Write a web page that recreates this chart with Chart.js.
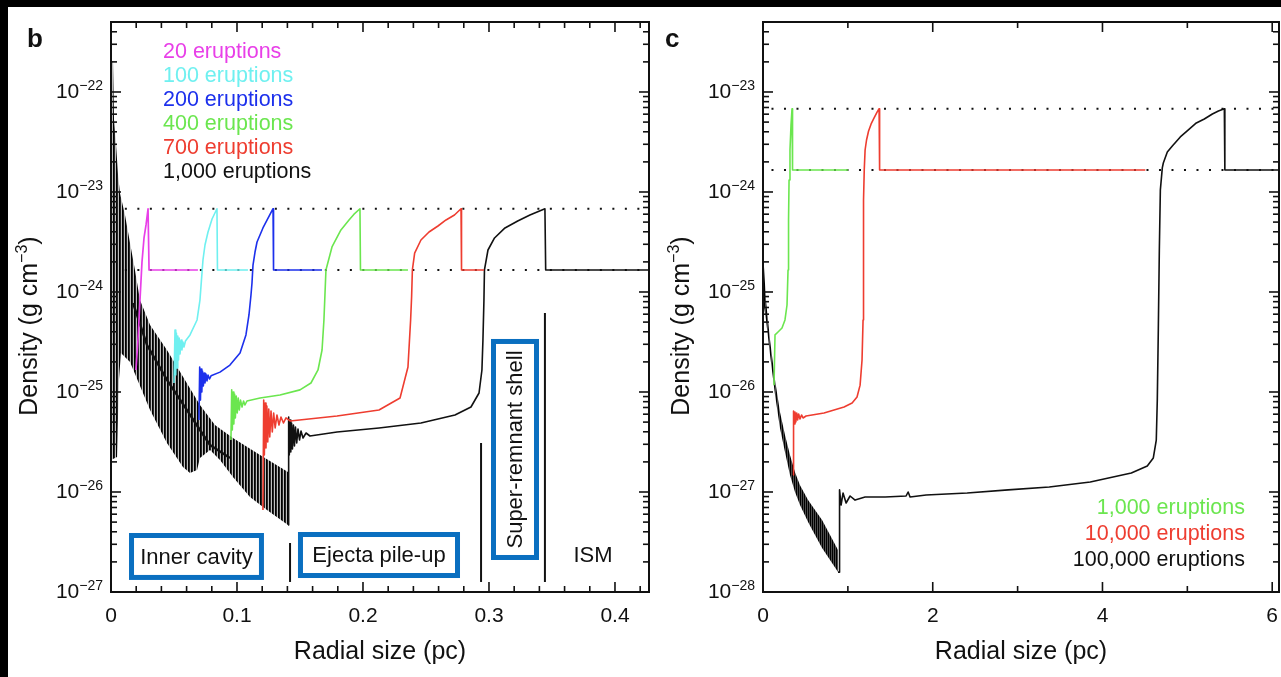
<!DOCTYPE html>
<html>
<head>
<meta charset="utf-8">
<script src="https://cdn.jsdelivr.net/npm/chart.js@4.4.1/dist/chart.umd.min.js"></script>
<style>
  body { margin: 0; background: #000; width: 1281px; height: 677px; overflow: hidden; }
  #sheet { position: absolute; left: 8px; top: 7px; width: 1273px; height: 670px; background: #fff; }
  #panelB { position: absolute; left: 0; top: 0; }
  #panelC { position: absolute; left: 648px; top: 0; }
</style>
</head>
<body>
<div id="sheet">
  <canvas id="panelB" width="648" height="670"></canvas>
  <canvas id="panelC" width="625" height="670"></canvas>
</div>
<script>
// ---------- panel b : radius (pc) and density (g cm^-3) ----------
const bMagX = [0.0198, 0.0214, 0.0230, 0.0246, 0.0262, 0.0278, 0.0294, 0.0302, 0.0690];
const bMagY = [1.66e-25, 3.31e-25, 8.3e-25, 2.0e-24, 3.47e-24, 4.68e-24, 6.8e-24, 1.66e-24, 1.66e-24];

const bCyanX = [0.0500, 0.0508, 0.0514, 0.0519, 0.0525, 0.0530, 0.0536, 0.0541, 0.0548, 0.0556, 0.0563, 0.0571, 0.0579, 0.0591, 0.0627, 0.0683, 0.0706, 0.0718, 0.0730, 0.0746, 0.0770, 0.0802, 0.0841, 0.0845, 0.1087];
const bCyanY = [1.23e-25, 4.17e-25, 1.48e-25, 3.89e-25, 1.74e-25, 3.63e-25, 2.09e-25, 3.47e-25, 2.4e-25, 3.31e-25, 2.63e-25, 3.16e-25, 2.82e-25, 3.24e-25, 3.72e-25, 5.25e-25, 8.3e-25, 1.32e-24, 2.09e-24, 2.95e-24, 3.98e-24, 5.37e-24, 6.8e-24, 1.66e-24, 1.66e-24];

const bBlueX = [0.0698, 0.0704, 0.0710, 0.0715, 0.0721, 0.0726, 0.0733, 0.0739, 0.0746, 0.0754, 0.0762, 0.0770, 0.0782, 0.0794, 0.0865, 0.0944, 0.1024, 0.1071, 0.1095, 0.1111, 0.1119, 0.1127, 0.1143, 0.1159, 0.1206, 0.1286, 0.1290, 0.1675];
const bBlueY = [5.25e-26, 1.78e-25, 8.3e-26, 1.7e-25, 1.0e-25, 1.62e-25, 1.15e-25, 1.55e-25, 1.23e-25, 1.51e-25, 1.29e-25, 1.48e-25, 1.35e-25, 1.45e-25, 1.58e-25, 1.86e-25, 2.45e-25, 3.72e-25, 5.89e-25, 9.33e-25, 1.23e-24, 1.86e-24, 2.51e-24, 3.16e-24, 4.37e-24, 6.8e-24, 1.66e-24, 1.66e-24];

const bGreenX = [0.0952, 0.0958, 0.0963, 0.0969, 0.0975, 0.0981, 0.0987, 0.0994, 0.1002, 0.1010, 0.1018, 0.1028, 0.1040, 0.1052, 0.1063, 0.1079, 0.1183, 0.1341, 0.1500, 0.1587, 0.1643, 0.1675, 0.1690, 0.1698, 0.1706, 0.1754, 0.1825, 0.1889, 0.1929, 0.1976, 0.1980, 0.2357];
const bGreenY = [3.31e-26, 1.05e-25, 4.17e-26, 1.0e-25, 4.79e-26, 9.55e-26, 5.5e-26, 9.12e-26, 6.17e-26, 8.7e-26, 6.6e-26, 8.3e-26, 7.08e-26, 8.13e-26, 7.41e-26, 8.13e-26, 8.7e-26, 9.33e-26, 1.05e-25, 1.23e-25, 1.66e-25, 2.63e-25, 5.25e-25, 9.33e-25, 1.66e-24, 2.82e-24, 4.17e-24, 5.25e-24, 6.0e-24, 6.8e-24, 1.66e-24, 1.66e-24];

const bRedX = [0.1206, 0.1212, 0.1217, 0.1224, 0.1230, 0.1237, 0.1244, 0.1252, 0.1260, 0.1270, 0.1280, 0.1291, 0.1303, 0.1317, 0.1333, 0.1349, 0.1369, 0.1389, 0.1421, 0.1794, 0.2127, 0.2294, 0.2357, 0.2378, 0.2386, 0.2392, 0.2410, 0.2460, 0.2524, 0.2595, 0.2659, 0.2726, 0.2778, 0.2782, 0.2960];
const bRedY = [6.6e-27, 8.3e-26, 2.34e-26, 7.76e-26, 2.75e-26, 7.24e-26, 3.16e-26, 6.76e-26, 3.55e-26, 6.46e-26, 3.98e-26, 6.17e-26, 4.37e-26, 5.89e-26, 4.68e-26, 5.62e-26, 4.9e-26, 5.5e-26, 5.13e-26, 5.75e-26, 6.6e-26, 8.7e-26, 1.78e-25, 5.25e-25, 9.0e-25, 1.66e-24, 2.45e-24, 3.31e-24, 3.98e-24, 4.57e-24, 5.25e-24, 5.89e-24, 6.8e-24, 1.66e-24, 1.66e-24];

// 1,000 eruptions: outer part as a line, inner oscillating part as an envelope
const bBlackX = [0.1405, 0.1410, 0.1415, 0.1421, 0.1427, 0.1433, 0.1440, 0.1448, 0.1456, 0.1464, 0.1474, 0.1484, 0.1496, 0.1508, 0.1524, 0.1548, 0.1579, 0.1794, 0.2127, 0.2460, 0.2730, 0.2857, 0.2921, 0.2944, 0.2952, 0.2960, 0.2964, 0.2992, 0.3044, 0.3127, 0.3228, 0.3325, 0.3444, 0.3450, 0.4300];
const bBlackY = [4.68e-27, 5.62e-26, 2.34e-26, 5.25e-26, 2.51e-26, 4.9e-26, 2.69e-26, 4.68e-26, 2.88e-26, 4.47e-26, 3.09e-26, 4.27e-26, 3.31e-26, 4.07e-26, 3.47e-26, 3.89e-26, 3.63e-26, 3.98e-26, 4.37e-26, 4.9e-26, 5.89e-26, 7.08e-26, 9.77e-26, 1.66e-25, 3.31e-25, 8.3e-25, 1.66e-24, 2.63e-24, 3.47e-24, 4.37e-24, 5.13e-24, 5.89e-24, 6.8e-24, 1.66e-24, 1.66e-24];
const bBandTopX = [0, 0.0016, 0.0024, 0.0040, 0.0056, 0.0071, 0.0111, 0.0151, 0.0190, 0.0230, 0.0310, 0.0444, 0.0587, 0.0706, 0.0825, 0.0968, 0.1183, 0.1405];
const bBandTopY = [2.09e-22, 2.0e-22, 5.25e-23, 2.95e-23, 1.48e-23, 9.77e-24, 5.89e-24, 3.09e-24, 1.66e-24, 8.3e-25, 4.68e-25, 2.63e-25, 1.32e-25, 7.41e-26, 4.68e-26, 3.47e-26, 2.34e-26, 1.58e-26];
const bBandLowX = [0, 0.0048, 0.0063, 0.0079, 0.0151, 0.0310, 0.0444, 0.0571, 0.0627, 0.0683, 0.0706, 0.0786, 0.0865, 0.0968, 0.1103, 0.1238, 0.1405];
const bBandLowY = [2.09e-26, 2.24e-26, 1.32e-25, 2.45e-25, 2.0e-25, 6.6e-26, 3.09e-26, 1.78e-26, 1.55e-26, 1.66e-26, 2.19e-26, 2.63e-26, 2.09e-26, 1.41e-26, 8.9e-27, 6.6e-27, 4.68e-27];
const bBandMidX = [0.0175, 0.0286, 0.0444, 0.0603, 0.0706, 0.0786, 0.0944];
const bBandMidY = [7.76e-25, 2.95e-25, 1.32e-25, 6.6e-26, 4.17e-26, 2.95e-26, 2.19e-26];

// shock peak and ambient (ISM) density, dotted guides
const shockDensity = 6.8e-24;
const ismDensity = 1.66e-24;
const bGuideX = [0.011, 0.427];

// region boundaries (x, bottom, top)
const bBounds = [[0.1421, 1.26e-27, 3.09e-27], [0.2937, 1.26e-27, 3.09e-26], [0.3444, 1.26e-27, 6.17e-25]];

const bTicksX = [0, 0.1, 0.2, 0.3, 0.4];
const bTickLabelsX = ['0', '0.1', '0.2', '0.3', '0.4'];
const bMinorX = [0.02, 0.04, 0.06, 0.08, 0.12, 0.14, 0.16, 0.18, 0.22, 0.24, 0.26, 0.28, 0.32, 0.34, 0.36, 0.38, 0.42];
const bDecades = [-27, -26, -25, -24, -23, -22];
const bLegend = ['20 eruptions', '100 eruptions', '200 eruptions', '400 eruptions', '700 eruptions', '1,000 eruptions'];

// ---------- panel c ----------
const cGreenX = [0.130, 0.1415, 0.177, 0.224, 0.259, 0.283, 0.295, 0.301, 0.307, 0.318, 0.330, 0.342, 0.348, 1.002];
const cGreenY = [1.17e-26, 3.72e-26, 3.98e-26, 4.37e-26, 5.25e-26, 7.41e-26, 1.66e-25, 5.25e-25, 1.32e-24, 2.63e-24, 4.68e-24, 6.8e-24, 1.66e-24, 1.66e-24];

const cRedX = [0.354, 0.360, 0.368, 0.377, 0.387, 0.397, 0.408, 0.420, 0.436, 0.454, 0.472, 0.507, 0.719, 0.955, 1.050, 1.108, 1.144, 1.167, 1.179, 1.183, 1.186, 1.193, 1.203, 1.220, 1.244, 1.274, 1.309, 1.344, 1.368, 1.374, 4.505];
const cRedY = [1.48e-27, 6.46e-27, 4.79e-27, 6.3e-27, 5.01e-27, 6.17e-27, 5.25e-27, 6.03e-27, 5.37e-27, 5.89e-27, 5.5e-27, 5.75e-27, 6.17e-27, 7.08e-27, 7.76e-27, 8.9e-27, 1.17e-26, 2.09e-26, 5.25e-26, 2.63e-25, 8.3e-25, 1.66e-24, 2.63e-24, 3.31e-24, 4.07e-24, 4.79e-24, 5.5e-24, 6.3e-24, 6.8e-24, 1.66e-24, 1.66e-24];

const cBandX = [0, 0.035, 0.083, 0.142, 0.200, 0.259, 0.318, 0.377, 0.436, 0.531, 0.613, 0.696, 0.790, 0.884];
const cBandTopY = [2.63e-25, 8.3e-26, 3.31e-26, 1.32e-26, 6.3e-27, 3.72e-27, 2.34e-27, 1.58e-27, 1.17e-27, 8.3e-28, 6.6e-28, 5.25e-28, 3.72e-28, 2.63e-28];
const cBandLowY = [8.3e-26, 5.25e-26, 2.34e-26, 9.33e-27, 4.37e-27, 2.51e-27, 1.48e-27, 1.0e-27, 7.41e-28, 5.0e-28, 3.72e-28, 2.75e-28, 2.09e-28, 1.58e-28];
const cBlackX = [0.884, 0.896, 0.902, 0.920, 0.943, 0.979, 1.026, 1.085, 1.203, 1.439, 1.686, 1.710, 1.733, 1.922, 2.406, 2.889, 3.373, 3.856, 4.340, 4.528, 4.599, 4.634, 4.646, 4.658, 4.670, 4.682, 4.705, 4.717, 4.764, 4.823, 4.917, 5.012, 5.106, 5.200, 5.295, 5.366, 5.436, 5.442, 6.1];
const cBlackY = [1.58e-28, 1.58e-28, 1.05e-27, 7.41e-28, 9.77e-28, 7.76e-28, 9.12e-28, 8.3e-28, 8.9e-28, 8.9e-28, 9.12e-28, 1.0e-27, 8.9e-28, 9.33e-28, 9.77e-28, 1.05e-27, 1.12e-27, 1.26e-27, 1.55e-27, 1.82e-27, 2.19e-27, 3.31e-27, 8.3e-27, 4.17e-26, 2.63e-25, 1.05e-24, 1.74e-24, 1.95e-24, 2.51e-24, 2.88e-24, 3.55e-24, 4.17e-24, 4.9e-24, 5.37e-24, 6.03e-24, 6.46e-24, 6.8e-24, 1.66e-24, 1.66e-24];
const cGuideX = [0.1, 6.1];

const cTicksX = [0, 2, 4, 6];
const cTickLabelsX = ['0', '2', '4', '6'];
const cMinorX = [1, 3, 5];
const cDecades = [-28, -27, -26, -25, -24, -23];
const cLegend = ['1,000 eruptions', '10,000 eruptions', '100,000 eruptions'];

// ---------- drawing ----------
const FONT = '"Liberation Sans", Arial, Helvetica, sans-serif';
const MAGENTA = '#e83fe8', CYAN = '#6ff0f0', BLUE = '#1c30ec', GREEN = '#6be64f', RED = '#ee3d30', INK = '#111';

function pts(xs, ys) { return xs.map((x, i) => ({ x: x, y: ys[i] })); }
function flat(xs, v) { return xs.map(x => ({ x: x, y: v })); }

// vertical hatching that stands in for the dense oscillations
function stripes(alphas) {
  const p = document.createElement('canvas');
  p.width = alphas.length; p.height = 4;
  const g = p.getContext('2d');
  alphas.forEach((al, i) => { g.fillStyle = 'rgba(0,0,0,' + al + ')'; g.fillRect(i, 0, 1, 4); });
  return g.createPattern(p, 'repeat');
}

function line(data, color, width, order, extra) {
  return Object.assign({ data: data, borderColor: color, borderWidth: width, pointRadius: 0,
    fill: false, tension: 0, borderJoinStyle: 'round', order: order }, extra || {});
}

function drawPow(ctx, xr, y, exp) {
  const sup = '\u2212' + Math.abs(exp);
  ctx.font = '14px ' + FONT;
  const w2 = ctx.measureText(sup).width;
  ctx.font = '21px ' + FONT;
  const w1 = ctx.measureText('10').width;
  ctx.textAlign = 'left'; ctx.textBaseline = 'alphabetic';
  ctx.fillText('10', xr - w1 - w2, y + 6);
  ctx.font = '14px ' + FONT;
  ctx.fillText(sup, xr - w2, y - 2);
}

const framePlugin = {
  id: 'frame',
  afterDraw(chart, args, o) {
    const ctx = chart.ctx, a = chart.chartArea, sx = chart.scales.x, sy = chart.scales.y;
    ctx.save();
    const seg = (x0, y0, x1, y1) => { ctx.beginPath(); ctx.moveTo(x0, y0); ctx.lineTo(x1, y1); ctx.stroke(); };

    // blue annotation boxes
    (o.boxes || []).forEach(b => {
      const x0 = sx.getPixelForValue(b.x0), x1 = sx.getPixelForValue(b.x1);
      const y0 = sy.getPixelForValue(b.y1), y1 = sy.getPixelForValue(b.y0);
      ctx.lineWidth = 5; ctx.strokeStyle = '#0a6fc0';
      ctx.strokeRect(x0 + 2.5, y0 + 2.5, x1 - x0 - 5, y1 - y0 - 5);
      ctx.save();
      ctx.translate((x0 + x1) / 2, (y0 + y1) / 2);
      if (b.vertical) ctx.rotate(-Math.PI / 2);
      ctx.font = '22px ' + FONT; ctx.fillStyle = INK; ctx.textAlign = 'center'; ctx.textBaseline = 'middle';
      ctx.fillText(b.text, 0, 1);
      ctx.restore();
    });
    (o.notes || []).forEach(n => {
      ctx.font = '22px ' + FONT; ctx.fillStyle = INK; ctx.textAlign = 'center'; ctx.textBaseline = 'middle';
      ctx.fillText(n.text, sx.getPixelForValue(n.x), sy.getPixelForValue(n.y));
    });

    // legend
    const lg = o.legend;
    ctx.font = '21.5px ' + FONT; ctx.textAlign = lg.align; ctx.textBaseline = 'middle';
    lg.items.forEach((t, i) => {
      ctx.fillStyle = lg.colors[i];
      ctx.fillText(t, a.left + lg.dx, a.top + lg.dy + i * lg.step);
    });

    // frame and inward ticks on all four sides
    ctx.strokeStyle = INK; ctx.fillStyle = INK;
    ctx.lineWidth = 2;
    ctx.strokeRect(a.left, a.top, a.right - a.left, a.bottom - a.top);
    ctx.lineWidth = 1.6;
    const tx = (v, len) => { const p = sx.getPixelForValue(v); seg(p, a.bottom, p, a.bottom - len); seg(p, a.top, p, a.top + len); };
    const ty = (v, len) => { const p = sy.getPixelForValue(v); seg(a.left, p, a.left + len, p); seg(a.right, p, a.right - len, p); };
    o.xTicks.forEach(v => tx(v, 10));
    o.xMinor.forEach(v => tx(v, 6));
    o.decades.concat([o.decades[o.decades.length - 1] + 1]).forEach(d => {
      for (let m = 1; m <= 9; m++) {
        const v = Number(m + 'e' + d);
        if (v >= sy.min * 0.999 && v <= sy.max * 1.001) ty(v, m === 1 ? 10 : 6);
      }
    });

    // tick labels
    ctx.font = '21px ' + FONT; ctx.textAlign = 'center'; ctx.textBaseline = 'alphabetic';
    o.xTicks.forEach((v, i) => ctx.fillText(o.xLabels[i], sx.getPixelForValue(v), a.bottom + 30));
    o.decades.forEach(d => drawPow(ctx, a.left - 8, sy.getPixelForValue(Number('1e' + d)), d));

    // axis titles
    ctx.font = '25px ' + FONT; ctx.textAlign = 'center';
    ctx.fillText('Radial size (pc)', (a.left + a.right) / 2, a.bottom + 67);
    ctx.save();
    ctx.translate(a.left - 74, (a.top + a.bottom) / 2 + 19);
    ctx.rotate(-Math.PI / 2);
    const t1 = 'Density (g cm', t2 = '\u22123', t3 = ')';
    ctx.font = '25px ' + FONT; const w1 = ctx.measureText(t1).width, w3 = ctx.measureText(t3).width;
    ctx.font = '16px ' + FONT; const w2 = ctx.measureText(t2).width;
    let x0 = -(w1 + w2 + w3) / 2;
    ctx.textAlign = 'left';
    ctx.font = '25px ' + FONT; ctx.fillText(t1, x0, 0);
    ctx.font = '16px ' + FONT; ctx.fillText(t2, x0 + w1, -10);
    ctx.font = '25px ' + FONT; ctx.fillText(t3, x0 + w1 + w2, 0);
    ctx.restore();

    // panel letter
    ctx.font = 'bold 26px ' + FONT; ctx.textAlign = 'left';
    ctx.fillText(o.letter, o.letterX, o.letterY);
    ctx.restore();
  }
};

function baseOptions(xmax, ymin, ymax, pad, frame) {
  return {
    responsive: false, animation: false, events: [],
    layout: { padding: pad },
    plugins: { legend: { display: false }, tooltip: { enabled: false }, frame: frame },
    scales: {
      x: { type: 'linear', min: 0, max: xmax, display: false },
      y: { type: 'logarithmic', min: ymin, max: ymax, display: false }
    }
  };
}

const dotted = { borderDash: [2, 10.5], borderCapStyle: 'butt' };

new Chart(document.getElementById('panelB'), {
  type: 'line',
  data: { datasets: [
    line(pts(bMagX, bMagY), MAGENTA, 1.7, 1),
    line(pts(bCyanX, bCyanY), CYAN, 1.6, 1),
    line(pts(bBlueX, bBlueY), BLUE, 1.6, 1),
    line(pts(bGreenX, bGreenY), GREEN, 1.6, 1),
    line(pts(bRedX, bRedY), RED, 1.6, 1),
    line(pts(bBlackX, bBlackY), INK, 1.6, 2),
    line(pts(bBandMidX, bBandMidY), INK, 2.4, 3),
    line(pts(bBandTopX, bBandTopY), 'rgba(0,0,0,0)', 0, 4, { fill: '+1', backgroundColor: stripes([1, 0.85, 0.25]) }),
    line(pts(bBandLowX, bBandLowY), 'rgba(0,0,0,0)', 0, 4),
    line(flat(bGuideX, shockDensity), INK, 1.8, 5, dotted),
    line(flat(bGuideX, ismDensity), INK, 1.8, 5, dotted),
    ...bBounds.map(b => line([{ x: b[0], y: b[1] }, { x: b[0], y: b[2] }], INK, 2, 0))
  ] },
  options: baseOptions(0.427, 1e-27, 5.01e-22, { left: 103, top: 15, right: 7, bottom: 85 }, {
    xTicks: bTicksX, xLabels: bTickLabelsX, xMinor: bMinorX, decades: bDecades,
    letter: 'b', letterX: 19, letterY: 40,
    legend: { items: bLegend, colors: [MAGENTA, CYAN, BLUE, GREEN, RED, INK], align: 'left', dx: 52, dy: 30, step: 24.1 },
    boxes: [
      { text: 'Inner cavity', x0: 0.0143, x1: 0.1214, y0: 1.32e-27, y1: 3.89e-27 },
      { text: 'Ejecta pile-up', x0: 0.1484, x1: 0.2770, y0: 1.38e-27, y1: 3.98e-27 },
      { text: 'Super-remnant shell', x0: 0.3016, x1: 0.3397, y0: 2.09e-27, y1: 3.39e-25, vertical: true }
    ],
    notes: [{ text: 'ISM', x: 0.3825, y: 2.29e-27 }]
  }),
  plugins: [framePlugin]
});

new Chart(document.getElementById('panelC'), {
  type: 'line',
  data: { datasets: [
    line(pts(cGreenX, cGreenY), GREEN, 1.6, 1),
    line(pts(cRedX, cRedY), RED, 1.6, 1),
    line(pts(cBlackX, cBlackY), INK, 1.6, 2),
    line(pts(cBandX, cBandTopY), 'rgba(0,0,0,0)', 0, 4, { fill: '+1', backgroundColor: stripes([1, 0.7]) }),
    line(pts(cBandX, cBandLowY), 'rgba(0,0,0,0)', 0, 4),
    line(flat(cGuideX, shockDensity), INK, 1.8, 5, dotted),
    line(flat(cGuideX, ismDensity), INK, 1.8, 5, dotted)
  ] },
  options: baseOptions(6.08, 1e-28, 5.01e-23, { left: 107, top: 15, right: 2, bottom: 85 }, {
    xTicks: cTicksX, xLabels: cTickLabelsX, xMinor: cMinorX, decades: cDecades,
    letter: 'c', letterX: 9, letterY: 40,
    legend: { items: cLegend, colors: [GREEN, RED, INK], align: 'right', dx: 482, dy: 486, step: 26 }
  }),
  plugins: [framePlugin]
});
</script>
</body>
</html>
